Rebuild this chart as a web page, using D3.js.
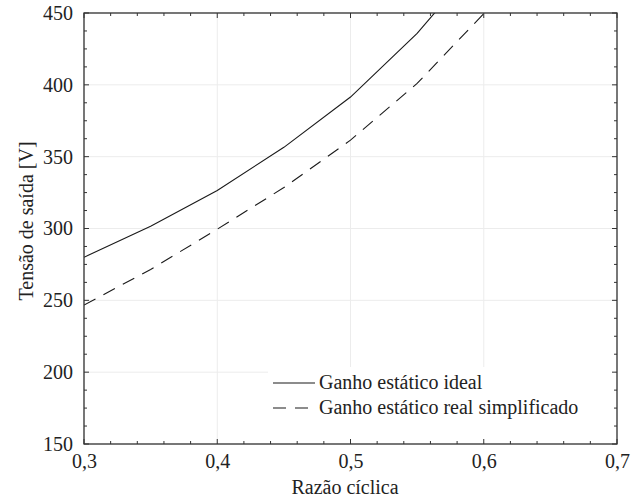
<!DOCTYPE html>
<html>
<head>
<meta charset="utf-8">
<script src="https://cdn.jsdelivr.net/npm/d3@7"></script>
<style>
  body { margin: 0; background: #fff; }
  svg { display: block; }
  svg text { font-family: "Liberation Serif", "Times New Roman", serif !important; }
</style>
</head>
<body>
<svg id="chart" width="643" height="501"></svg>
<script>
const dutyCycle = [0.30, 0.35, 0.40, 0.45, 0.50, 0.55, 0.60];
const idealGain = [280, 301.5, 326.5, 356.5, 391.5, 435.8, 490];
const realGain  = [246.7, 271.5, 299.5, 328.5, 361.5, 401, 449.5];
const xTicks = [0.3, 0.4, 0.5, 0.6, 0.7];
const yTicks = [150, 200, 250, 300, 350, 400, 450];
const seriesNames = ["Ganho estático ideal", "Ganho estático real simplificado"];
const xTitle = "Razão cíclica";
const yTitle = "Tensão de saída [V]";

const svg = d3.select("#chart");
const m = { left: 84, right: 617, top: 13, bottom: 444 };
const x = d3.scaleLinear().domain([0.3, 0.7]).range([m.left, m.right]);
const y = d3.scaleLinear().domain([150, 450]).range([m.bottom, m.top]);
const fmt = d => d3.format(".1f")(d).replace(".", ",");
const FS = 20;

// grid
const grid = svg.append("g").attr("stroke", "#ececec").attr("stroke-width", 1);
xTicks.forEach(t => grid.append("line").attr("x1", x(t)).attr("x2", x(t)).attr("y1", m.top).attr("y2", m.bottom));
yTicks.forEach(t => grid.append("line").attr("y1", y(t)).attr("y2", y(t)).attr("x1", m.left).attr("x2", m.right));

// clip
svg.append("clipPath").attr("id", "clip").append("rect")
  .attr("x", m.left).attr("y", m.top).attr("width", m.right - m.left).attr("height", m.bottom - m.top);

const line = d3.line().x(d => x(d[0])).y(d => y(d[1]));
const plot = svg.append("g").attr("clip-path", "url(#clip)");
plot.append("path").datum(dutyCycle.map((d, i) => [d, idealGain[i]]))
  .attr("d", line).attr("fill", "none").attr("stroke", "#1a1a1a").attr("stroke-width", 1.1);
plot.append("path").datum(dutyCycle.map((d, i) => [d, realGain[i]]))
  .attr("d", line).attr("fill", "none").attr("stroke", "#1a1a1a").attr("stroke-width", 1.1)
  .attr("stroke-dasharray", "13,9");

// legend
const lg = svg.append("g");
lg.append("rect").attr("x", 268).attr("y", 367).attr("width", m.right - 268 - 2).attr("height", m.bottom - 367 - 2).attr("fill", "#fff");
const rows = [388, 413];
lg.append("line").attr("x1", 273).attr("x2", 315).attr("y1", rows[0] - 5).attr("y2", rows[0] - 5)
  .attr("stroke", "#1a1a1a").attr("stroke-width", 1.1);
lg.append("line").attr("x1", 273).attr("x2", 315).attr("y1", rows[1] - 5).attr("y2", rows[1] - 5)
  .attr("stroke", "#1a1a1a").attr("stroke-width", 1.1).attr("stroke-dasharray", "13,9");
seriesNames.forEach((n, i) => lg.append("text").attr("x", 319).attr("y", rows[i] + 1)
  .attr("font-size", FS).attr("fill", "#222").text(n));

// axes (ticks inward on all sides)
const axColor = "#333";
const xMinor = d3.range(0.3, 0.7001, 0.02);
const yMinor = d3.range(150, 450.01, 12.5);
const ax = svg.append("g").attr("stroke", axColor);
xMinor.forEach(t => {
  const major = xTicks.some(v => Math.abs(v - t) < 1e-6);
  const L = major ? 5 : 3;
  ax.append("line").attr("x1", x(t)).attr("x2", x(t)).attr("y1", m.bottom).attr("y2", m.bottom - L);
  ax.append("line").attr("x1", x(t)).attr("x2", x(t)).attr("y1", m.top).attr("y2", m.top + L);
});
yMinor.forEach(t => {
  const major = yTicks.some(v => Math.abs(v - t) < 1e-6);
  const L = major ? 5 : 3;
  ax.append("line").attr("y1", y(t)).attr("y2", y(t)).attr("x1", m.left).attr("x2", m.left + L);
  ax.append("line").attr("y1", y(t)).attr("y2", y(t)).attr("x1", m.right).attr("x2", m.right - L);
});
svg.append("rect").attr("x", m.left).attr("y", m.top).attr("width", m.right - m.left).attr("height", m.bottom - m.top)
  .attr("fill", "none").attr("stroke", axColor).attr("stroke-width", 1.3);

// tick labels via d3 axes (lines hidden)
const xAxis = svg.append("g").attr("transform", `translate(0,${m.bottom})`)
  .call(d3.axisBottom(x).tickValues(xTicks).tickFormat(fmt).tickSize(0).tickPadding(10));
const yAxis = svg.append("g").attr("transform", `translate(${m.left},0)`)
  .call(d3.axisLeft(y).tickValues(yTicks).tickFormat(d3.format("d")).tickSize(0).tickPadding(11));
[xAxis, yAxis].forEach(a => {
  a.attr("font-family", null).attr("font-size", null);
  a.select(".domain").remove();
  a.selectAll("text").attr("font-size", FS).attr("fill", "#222");
});

svg.append("text").attr("x", 345).attr("y", 494).attr("text-anchor", "middle")
  .attr("font-size", FS).attr("fill", "#222").text(xTitle);
svg.append("text").attr("transform", `translate(33,221) rotate(-90)`)
  .attr("text-anchor", "middle").attr("font-size", FS).attr("fill", "#222").text(yTitle);
</script>
</body>
</html>
